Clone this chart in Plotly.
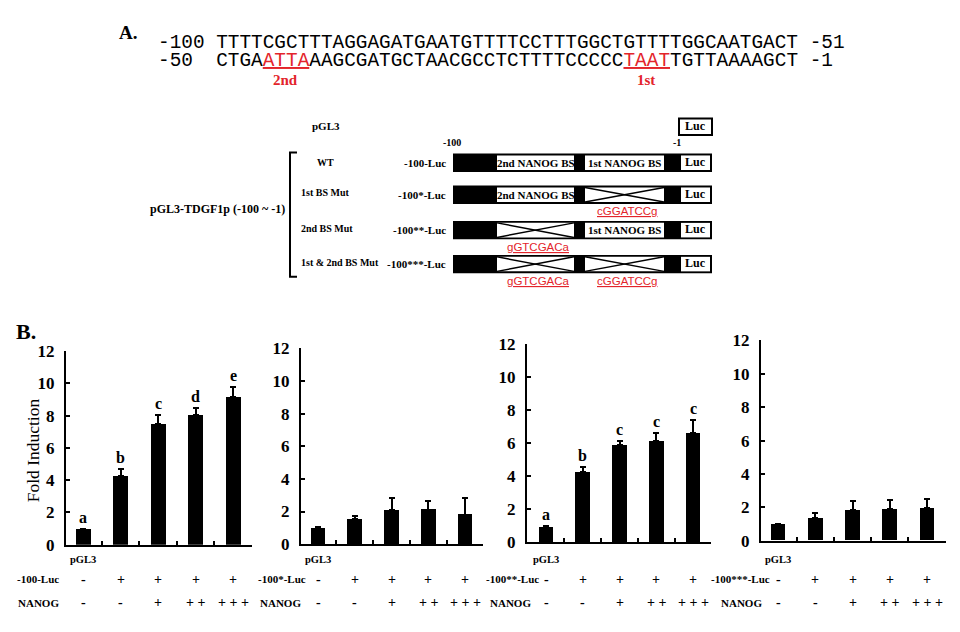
import plotly.graph_objects as go

W, H = 960, 632


def X(p):
    return p / W


def Y(p):
    return 1 - p / H


# ---------------- data ----------------
seq_top = "TTTTCGCTTTAGGAGATGAATGTTTTCCTTTGGCTGTTTTGGCAATGACT"
seq_bottom = "CTGAATTAAAGCGATGCTAACGCCTCTTTTCCCCCTAATTGTTAAAAGCT"
site_2nd = (4, 8)     # ATTA
site_1st = (35, 39)   # TAAT

construct_names = ["WT", "1st BS Mut", "2nd BS Mut", "1st & 2nd BS Mut"]
construct_labels = ["-100-Luc", "-100*-Luc", "-100**-Luc", "-100***-Luc"]
bs2_mutated = [False, False, True, True]
bs1_mutated = [False, True, False, True]
mut_seq_2nd = "gGTCGACa"
mut_seq_1st = "cGGATCCg"

categories = ["pGL3", "Luc", "Luc+NANOG(+)", "Luc+NANOG(++)", "Luc+NANOG(+++)"]
fold_wt = [0.95, 4.28, 7.50, 8.05, 9.15]
err_wt = [0.05, 0.40, 0.52, 0.45, 0.60]
fold_mut1 = [0.97, 1.53, 2.08, 2.12, 1.79]
err_mut1 = [0.05, 0.22, 0.76, 0.52, 1.05]
fold_mut2 = [0.94, 4.24, 5.90, 6.15, 6.64]
err_mut2 = [0.05, 0.35, 0.21, 0.45, 0.76]
fold_mut12 = [0.98, 1.35, 1.85, 1.90, 1.95]
err_mut12 = [0.05, 0.30, 0.55, 0.55, 0.55]
letters_wt = ["a", "b", "c", "d", "e"]
letters_mut2 = ["a", "b", "c", "c", "c"]
luc_signs = ["-", "+", "+", "+", "+"]
nanog_signs = ["-", "-", "+", "+ +", "+ + +"]
y_ticks = [0, 2, 4, 6, 8, 10, 12]

series = [fold_wt, fold_mut1, fold_mut2, fold_mut12]
errors = [err_wt, err_mut1, err_mut2, err_mut12]
letters = [letters_wt, None, letters_mut2, None]

RED = "#e3242b"
SERIF = "Liberation Serif"

fig = go.Figure()
annotations = []
shapes = []


def ann(px, py, text, font, **kw):
    d = dict(x=X(px), y=Y(py), xref="paper", yref="paper", text=text, showarrow=False, font=font,
             xanchor="center", yanchor="middle")
    d.update(kw)
    annotations.append(d)


def rect(x0, x1, y0, y1, **kw):
    d = dict(type="rect", xref="paper", yref="paper", x0=X(x0), x1=X(x1), y0=Y(y1), y1=Y(y0))
    d.update(kw)
    shapes.append(d)


def line(x0, y0, x1, y1, width=1.5):
    shapes.append(dict(type="line", xref="paper", yref="paper", x0=X(x0), x1=X(x1), y0=Y(y0), y1=Y(y1),
                       line=dict(color="black", width=width)))


def F(size, bold=True, color="black", family=SERIF):
    return dict(family=family, size=size, weight="bold" if bold else "normal", color=color)


# ---------------- Panel A : sequence ----------------
ann(117, 24, "A.", F(19), xanchor="left")


def red_u(s):
    return f"<span style='color:{RED}'><u>{s}</u></span>"


line1 = "-100\u00a0" + seq_top + "\u00a0-51"
line2 = ("-50\u00a0\u00a0" + seq_bottom[:site_2nd[0]] + red_u(seq_bottom[site_2nd[0]:site_2nd[1]])
         + seq_bottom[site_2nd[1]:site_1st[0]] + red_u(seq_bottom[site_1st[0]:site_1st[1]])
         + seq_bottom[site_1st[1]:] + "\u00a0-1")
CH = 11.63
for txt, yy in [(line1, 35), (line2, 54)]:
    ann(157, yy, txt, F(19.4, bold=False, family="Liberation Mono"), xanchor="left", borderpad=0)
for lab, (s0, s1) in [("2nd", site_2nd), ("1st", site_1st)]:
    cx = 216 + (s0 + s1) / 2 * CH
    ann(cx, 73, lab, F(15, color=RED))

# ---------------- construct diagram ----------------
ann(326, 121, "pGL3", F(11))
rect(679, 712, 113, 130, line=dict(color="black", width=2), fillcolor="white")
ann(695.5, 121, "Luc", F(12))
ann(452, 138, "-100", F(10))
ann(677, 138, "-1", F(10))
ann(287, 206, "pGL3-TDGF1p (-100 ~ -1)", F(12), xanchor="right")
shapes.append(dict(type="path", xref="paper", yref="paper",
                   path=f"M {X(297)} {Y(148)} L {X(290)} {Y(148)} L {X(290)} {Y(276)} L {X(297)} {Y(276)}",
                   line=dict(color="black", width=2)))

row_centers = [158.5, 191.5, 228, 263]
box2 = (497, 574)
box1 = (585, 664)
boxluc = (681, 710)
for i, cy in enumerate(row_centers):
    if i == 0:
        ann(325, cy, construct_names[i], F(10))
    else:
        ann(299, cy - 2, construct_names[i], F(10), xanchor="left")
    ann(448, cy, construct_labels[i], F(11), xanchor="right")
    rect(453, 712, cy - 9.5, cy + 9.5, line=dict(width=0), fillcolor="black")
    for (bx0, bx1), mutated, label, mseq in [(box2, bs2_mutated[i], "2nd NANOG BS", mut_seq_2nd),
                                             (box1, bs1_mutated[i], "1st NANOG BS", mut_seq_1st)]:
        rect(bx0, bx1, cy - 7.5, cy + 7.5, line=dict(width=0), fillcolor="white")
        if mutated:
            line(bx0, cy - 7.5, bx1, cy + 7.5)
            line(bx0, cy + 7.5, bx1, cy - 7.5)
            ann((bx0 + bx1) / 2 + 3, cy + 17, f"<u>{mseq}</u>", F(11.5, bold=False, color=RED,
                                                                  family="Liberation Sans"))
        else:
            ann((bx0 + bx1) / 2, cy, label, F(11))
    rect(boxluc[0], boxluc[1], cy - 7.5, cy + 7.5, line=dict(width=0), fillcolor="white")
    ann((boxluc[0] + boxluc[1]) / 2, cy - 1, "Luc", F(12))

# ---------------- Panel B : bar charts ----------------
ann(14, 332, "B.", F(22), xanchor="left")
ann(33, 455, "Fold Induction", F(17.5, bold=False), textangle=-90)

# (axis left px, first bar px, bar spacing px, top px, bottom px, Luc label right px, NANOG label right px)
panels_px = [
    (66, 83, 37.5, 352.7, 552.3, 61, 61),
    (301, 318, 36.75, 350, 551.7, 308, 303),
    (527, 546, 36.75, 345.3, 550, 541, 533),
    (761, 778, 37.25, 341.7, 548.3, 772, 764),
]

for k, (left, first, sp, top, bot, lucx, nanx) in enumerate(panels_px):
    n = k + 1
    xa = "x" if n == 1 else f"x{n}"
    ya = "y" if n == 1 else f"y{n}"
    xlo = -(first - left) / sp
    right = left + (4.5 - xlo) * sp
    fig.add_trace(go.Bar(
        x=categories, y=series[k], xaxis=xa, yaxis=ya, width=0.4,
        marker=dict(color="black", line=dict(width=0)),
        error_y=dict(type="data", array=errors[k], arrayminus=[0] * 5, symmetric=False,
                     color="black", thickness=2, width=3),
        showlegend=False, hoverinfo="skip"))
    ax = dict(domain=[X(left), X(right)], anchor=ya, type="category", range=[xlo, 4.5],
              showticklabels=False, ticks="inside", tickson="boundaries", ticklen=4, tickwidth=2,
              tickcolor="black", showline=True, linecolor="black", linewidth=2, showgrid=False,
              zeroline=False, fixedrange=True)
    ay = dict(domain=[Y(bot), Y(top)], anchor=xa, range=[0, 12], tickvals=y_ticks,
              ticks="inside", ticklen=4, tickwidth=2, tickcolor="black", showline=True, linecolor="black",
              linewidth=2, showgrid=False, zeroline=False, ticklabelstandoff=6,
              tickfont=F(17), fixedrange=True)
    fig.layout[("xaxis" if n == 1 else f"xaxis{n}")] = ax
    fig.layout[("yaxis" if n == 1 else f"yaxis{n}")] = ay

    if letters[k] is not None:
        for j, c in enumerate(categories):
            annotations.append(dict(x=c, y=series[k][j] + errors[k][j], xref=xa, yref=ya, text=letters[k][j],
                                    showarrow=False, xanchor="center", yanchor="bottom", yshift=1, font=F(16)))
    annotations.append(dict(x=categories[0], y=Y(568), xref=xa, yref="paper", text="pGL3", showarrow=False,
                            xanchor="center", yanchor="middle", font=F(10.5)))
    ann(lucx, 588, construct_labels[k], F(11), xanchor="right")
    ann(nanx, 612, "NANOG", F(11), xanchor="right")
    for j, c in enumerate(categories):
        for sign, yy in [(luc_signs[j], 588), (nanog_signs[j], 612)]:
            annotations.append(dict(x=c, y=Y(yy), xref=xa, yref="paper", text=sign, showarrow=False,
                                    xanchor="center", yanchor="middle", font=F(14)))

fig.update_layout(
    width=W, height=H, margin=dict(l=0, r=0, t=0, b=0),
    paper_bgcolor="white", plot_bgcolor="white",
    annotations=annotations, shapes=shapes, bargap=0,
)

fig.write_html("out.html", config={"displayModeBar": False},
               post_script="document.body.style.margin='0px';document.body.style.overflow='hidden';")
